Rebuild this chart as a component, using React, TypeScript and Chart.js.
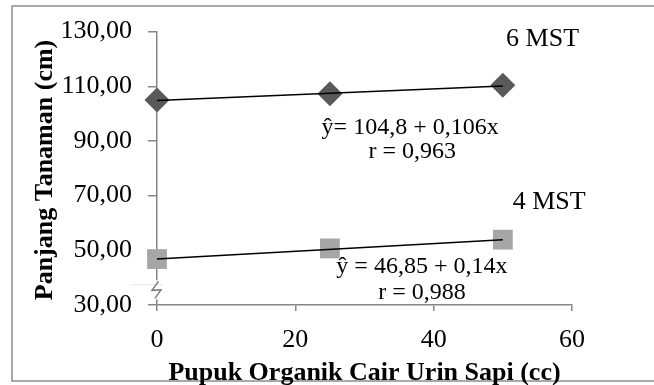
import React, { useEffect, useRef } from "react";
import { Chart, registerables } from "chart.js";

Chart.register(...registerables);

// ---- data ----
const doses = [0, 25, 50];
const mst6 = [105.0, 107.3, 110.4];
const mst4 = [46.8, 50.7, 53.9];
const trend6 = { a: 104.8, b: 0.106 };
const trend4 = { a: 46.85, b: 0.14 };
const trendRange = [0, 50];
const xTicks = [0, 20, 40, 60];
const yTicks = [30, 50, 70, 90, 110, 130];
const yTitle = "Panjang Tanaman (cm)";
const xTitle = "Pupuk Organik Cair Urin Sapi (cc)";
const annotations = [
  { text: "6 MST", x: 55.75, y: 124.6 },
  { text: "ŷ= 104,8 + 0,106x", x: 36.6, y: 92.5 },
  { text: "r = 0,963", x: 36.9, y: 83.6 },
  { text: "4 MST", x: 56.7, y: 65.0 },
  { text: "ŷ = 46,85 + 0,14x", x: 38.3, y: 41.8 },
  { text: "r = 0,988", x: 38.3, y: 32.1 },
];

const SERIF = "'Liberation Serif', 'Times New Roman', serif";
const AXIS = "#868686";

const decorPlugin = {
  id: "decor",
  beforeDraw(chart: any) {
    const ctx = chart.ctx;
    ctx.save();
    ctx.strokeStyle = "#8c8c8c";
    ctx.lineWidth = 1.5;
    ctx.strokeRect(12, 6, 660, 375);
    ctx.restore();
  },
  afterDraw(chart: any) {
    const ctx = chart.ctx;
    const xs = chart.scales.x;
    const ys = chart.scales.y;
    ctx.save();
    // axis break marker
    const bx = xs.getPixelForValue(0);
    const by = ys.getPixelForValue(35);
    ctx.fillStyle = "#ffffff";
    ctx.fillRect(bx - 6, by - 11, 12, 19);
    ctx.strokeStyle = "#e6e6e6";
    ctx.lineWidth = 1;
    ctx.beginPath();
    ctx.moveTo(bx - 27, by - 6.5);
    ctx.lineTo(bx + 6, by - 6.5);
    ctx.stroke();
    ctx.strokeStyle = "#7a7a7a";
    ctx.lineWidth = 1.5;
    ctx.beginPath();
    ctx.moveTo(bx + 1.5, by - 10);
    ctx.lineTo(bx - 5, by - 1);
    ctx.lineTo(bx + 4, by - 1.5);
    ctx.lineTo(bx - 2, by + 7);
    ctx.stroke();

    // annotations
    ctx.fillStyle = "#000";
    ctx.textAlign = "center";
    ctx.textBaseline = "alphabetic";
    annotations.forEach((a) => {
      const isLabel = a.text.indexOf("MST") >= 0;
      ctx.font = (isLabel ? "26px " : "24px ") + SERIF;
      ctx.fillText(a.text, xs.getPixelForValue(a.x), ys.getPixelForValue(a.y));
    });

    // axis titles
    ctx.font = "bold 26px " + SERIF;
    ctx.fillText(xTitle, (chart.chartArea.left + chart.chartArea.right) / 2, 380);
    ctx.save();
    ctx.translate(52, 170);
    ctx.rotate(-Math.PI / 2);
    ctx.fillText(yTitle, 0, 0);
    ctx.restore();
    ctx.restore();
  },
};

export default function App() {
  const ref = useRef<HTMLCanvasElement | null>(null);
  useEffect(() => {
    if (!ref.current) return;
    const line = (t: { a: number; b: number }) =>
      trendRange.map((x) => ({ x, y: t.a + t.b * x }));
    const chart = new Chart(ref.current, {
      type: "scatter",
      data: {
        datasets: [
          {
            label: "trend 6 MST",
            type: "line",
            data: line(trend6),
            borderColor: "#000",
            borderWidth: 1.5,
            pointRadius: 0,
            showLine: true,
            clip: false,
          },
          {
            label: "trend 4 MST",
            type: "line",
            data: line(trend4),
            borderColor: "#000",
            borderWidth: 1.5,
            pointRadius: 0,
            showLine: true,
            clip: false,
          },
          {
            label: "6 MST",
            data: doses.map((x, i) => ({ x, y: mst6[i] })),
            pointStyle: "rectRot",
            pointRadius: 12.5,
            backgroundColor: "#595959",
            borderWidth: 0,
            clip: false,
          },
          {
            label: "4 MST",
            data: doses.map((x, i) => ({ x, y: mst4[i] })),
            pointStyle: "rect",
            pointRadius: 14,
            backgroundColor: "#a6a6a6",
            borderWidth: 0,
            clip: false,
          },
        ] as any,
      },
      options: {
        animation: false,
        responsive: false,
        layout: { padding: { top: 25, right: 82, left: 0, bottom: 0 } },
        plugins: { legend: { display: false }, tooltip: { enabled: false } },
        scales: {
          x: {
            type: "linear",
            min: 0,
            max: 60,
            afterFit: (s: any) => {
              s.height = 80;
            },
            afterBuildTicks: (s: any) => {
              s.ticks = xTicks.map((v) => ({ value: v }));
            },
            ticks: {
              color: "#000",
              font: { family: SERIF, size: 26 },
              padding: 14,
              maxRotation: 0,
            },
            grid: { drawOnChartArea: false, drawTicks: true, tickLength: 6, color: AXIS, lineWidth: 1.5 },
            border: { color: AXIS, width: 1.5 },
          },
          y: {
            type: "linear",
            min: 30,
            max: 130,
            afterFit: (s: any) => {
              s.width = 157;
            },
            afterBuildTicks: (s: any) => {
              s.ticks = yTicks.map((v) => ({ value: v }));
            },
            ticks: {
              color: "#000",
              font: { family: SERIF, size: 26 },
              padding: 16,
              callback: (v: any) => Number(v).toFixed(2).replace(".", ","),
            },
            grid: { drawOnChartArea: false, drawTicks: true, tickLength: 9, color: AXIS, lineWidth: 1.5 },
            border: { color: AXIS, width: 1.5 },
          },
        },
      },
      plugins: [decorPlugin],
    });
    return () => chart.destroy();
  }, []);
  return (
    <div style={{ position: "absolute", left: 0, top: 0, width: 654, height: 385, background: "#fff" }}>
      <canvas ref={ref} width={654} height={385} />
    </div>
  );
}
